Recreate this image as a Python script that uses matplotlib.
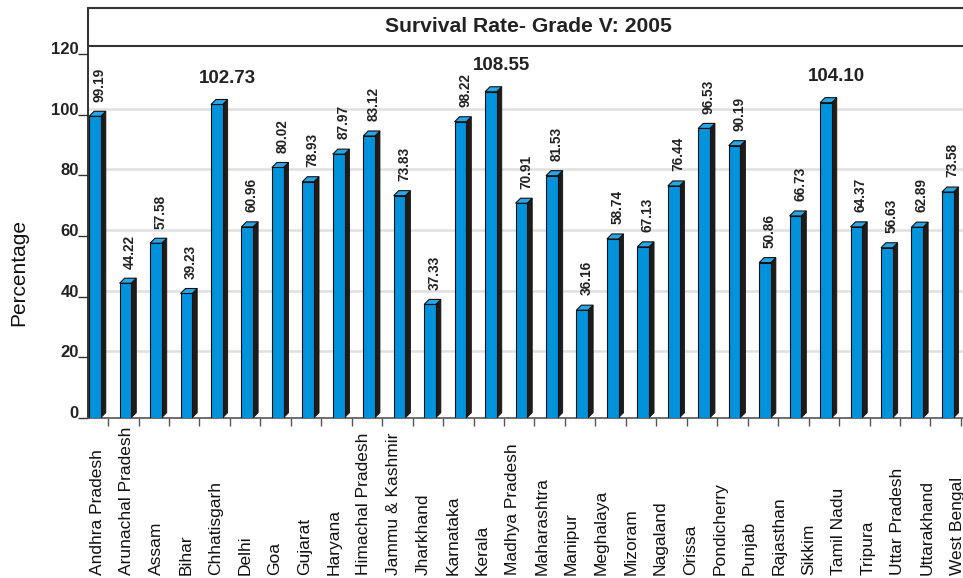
import matplotlib
matplotlib.use("Agg")
import matplotlib.pyplot as plt
import matplotlib.transforms as mtransforms
from matplotlib.patches import Polygon, Rectangle
import numpy as np

plt.rcParams['font.family'] = ['Liberation Sans', 'DejaVu Sans']

# category labels along the bottom (30 names, drawn as in the original)
states = ['Andhra Pradesh', 'Arunachal Pradesh', 'Assam', 'Bihar', 'Chhatisgarh',
          'Delhi', 'Goa', 'Gujarat', 'Haryana', 'Himachal Pradesh',
          'Jammu & Kashmir', 'Jharkhand', 'Karnataka', 'Kerala', 'Madhya Pradesh',
          'Maharashtra', 'Manipur', 'Meghalaya', 'Mizoram', 'Nagaland',
          'Orissa', 'Pondicherry', 'Punjab', 'Rajasthan', 'Sikkim',
          'Tamil Nadu', 'Tripura', 'Uttar Pradesh', 'Uttarakhand', 'West Bengal']

# bar heights as drawn (29 bars)
bar_values = [99.5, 44.4, 57.6, 41.0, 103.4, 63.0, 82.6, 77.9, 87.0, 93.0,
              73.3, 37.4, 97.7, 107.6, 70.8, 79.9, 35.5, 59.0, 56.4, 76.5,
              95.5, 89.8, 51.2, 66.6, 104.0, 63.0, 56.1, 62.9, 74.5]

# value labels printed over the bars
bar_labels = ['99.19', '44.22', '57.58', '39.23', '102.73', '60.96', '80.02', '78.93',
              '87.97', '83.12', '73.83', '37.33', '98.22', '108.55', '70.91', '81.53',
              '36.16', '58.74', '67.13', '76.44', '96.53', '90.19', '50.86', '66.73',
              '104.10', '64.37', '56.63', '62.89', '73.58']

y_ticks = [0, 20, 40, 60, 80, 100, 120]

W, H = 963, 578
fig = plt.figure(figsize=(W / 100, H / 100), dpi=100)
ax = fig.add_axes([88 / W, 160.3 / H, 875 / W, 372 / H])

blue = '#0093dc'
top_blue = '#2aa6e6'
side = '#1e1b19'

x = np.arange(len(bar_values))
w = 0.384
dx = 0.164
dy = 1.65

# back-wall gridlines (shifted up a few px like the 3D original)
grid_shift = mtransforms.ScaledTranslation(0, 0.06, fig.dpi_scale_trans)
for v in y_ticks[1:-1]:
    ax.plot([0, 1], [v, v], color='#e0e0e0', lw=1.8, zorder=0,
            transform=ax.get_yaxis_transform() + grid_shift)

ax.bar(x, bar_values, width=w, color=blue, edgecolor='#111111', linewidth=0.8, zorder=3)

for xi, v in zip(x, bar_values):
    r = xi + w / 2
    l = xi - w / 2
    ax.add_patch(Polygon([(r, 0), (r + dx, dy), (r + dx, v + dy), (r, v)],
                         closed=True, facecolor=side, edgecolor='#111111', lw=0.6, zorder=2))
    ax.add_patch(Polygon([(l, v), (r, v), (r + dx, v + dy), (l + dx, v + dy)],
                         closed=True, facecolor=top_blue, edgecolor='#111111', lw=0.8, zorder=4))

for xi, v, lab in zip(x, bar_values, bar_labels):
    if float(lab) > 100:
        ax.text(xi + 0.35, v + 8.5, lab, ha='center', va='center',
                fontsize=13.5, fontweight='bold', color='#222222')
    else:
        ax.text(xi + 0.15, v + dy + 3.2, lab, rotation=90, ha='center', va='bottom',
                fontsize=9.8, fontweight='bold', color='#222222')

ax.set_xlim(-0.23, 28.5)
ax.set_ylim(0, 122.8)

ax.spines['top'].set_visible(False)
ax.spines['right'].set_visible(False)
ax.spines['left'].set_color('#222222')
ax.spines['left'].set_linewidth(1.3)
ax.spines['bottom'].set_color('#555555')
ax.spines['bottom'].set_linewidth(1.2)

ax.set_yticks(y_ticks)
ax.set_yticklabels([str(t) for t in y_ticks], fontsize=12, fontweight='bold', color='#222222')
ax.tick_params(axis='y', length=7, width=1, color='#333333', pad=-0.5)
label_shift = mtransforms.ScaledTranslation(0, 0.06, fig.dpi_scale_trans)
for lbl in ax.get_yticklabels():
    lbl.set_transform(lbl.get_transform() + label_shift)

ax.set_xticks(x + 0.43)
ax.set_xticklabels([])
ax.tick_params(axis='x', length=6, width=1, color='#555555')

# category names, spaced evenly under the chart
label_pos = (97 + 29.66 * np.arange(len(states)) - 88) / 875
for px, name in zip(label_pos, states):
    ax.text(px, -0.423, name, transform=ax.transAxes, rotation=90,
            ha='center', va='bottom', fontsize=12.5, color='#111111', clip_on=False)

fig.text(19 / W, 1 - 273 / H, 'Percentage', rotation=90, ha='center', va='center',
         fontsize=15, color='#111111')

# title box
fig.patches.append(Rectangle((88 / W, 1 - 46 / H), 1.0, 38 / H, transform=fig.transFigure,
                             fill=False, edgecolor='#333333', lw=1.5))
fig.text(528 / W, 1 - 27 / H, 'Survival Rate- Grade V: 2005', ha='center', va='center',
         fontsize=15.2, fontweight='bold', color='#222222')

fig.savefig('out.png', dpi=100)
